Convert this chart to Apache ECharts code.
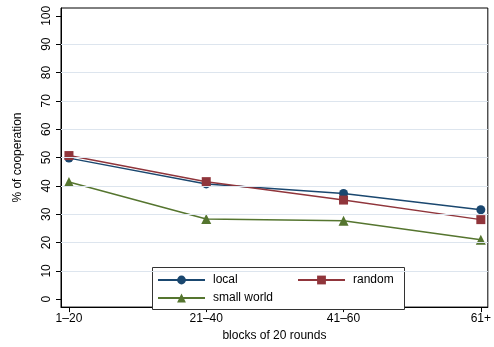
<!DOCTYPE html>
<html>
<head>
<meta charset="utf-8">
<script src="https://cdn.jsdelivr.net/npm/echarts@6/dist/echarts.min.js"></script>
<style>
  html, body { margin: 0; padding: 0; background: #fff; }
  #chart { width: 494px; height: 347px; }
</style>
</head>
<body>
<div id="chart"></div>
<script>
var blocks = ['1\u201320', '21\u201340', '41\u201360', '61+'];
var local = [49.8, 40.7, 37.3, 31.6];
var random = [50.7, 41.5, 35.0, 28.1];
var smallWorld = [41.4, 28.3, 27.7, 21.0];
var yTicks = [0, 10, 20, 30, 40, 50, 60, 70, 80, 90, 100];
var gridVals = [10, 20, 30, 40, 50, 60, 70, 80, 90];

var font = 'Liberation Sans, Arial, sans-serif';

function pts(arr) {
	return arr.map(function(v, i) { return [i, v]; });
}

function mkSeries(name, arr, color, symbol, size) {
	return {
		name: name,
		type: 'line',
		data: pts(arr),
		symbol: symbol,
		symbolSize: size,
		showSymbol: true,
		color: color,
		itemStyle: { color: color },
		lineStyle: { color: color, width: 1.5 },
		z: 3
	};
}

function mkLegend(name, left, top) {
	return {
		data: [name],
		left: left,
		top: top,
		padding: 0,
		itemWidth: 47,
		itemHeight: 11,
		z: 10,
		textStyle: { fontFamily: font, fontSize: 12, color: '#000', padding: [0, 0, 0, 3] }
	};
}

var chart = echarts.init(document.getElementById('chart'));

var series = [
	mkSeries('local', local, '#1a476f', 'circle', 9),
	mkSeries('random', random, '#90353b', 'rect', 9),
	mkSeries('small world', smallWorld, '#55752f', 'triangle', 10)
];
series[0].markLine = {
	silent: true,
	symbol: ['none', 'none'],
	label: { show: false },
	lineStyle: { color: '#dde5ee', width: 1, type: 'solid' },
	animation: false,
	data: gridVals.map(function(v) { return { yAxis: v }; })
};

chart.setOption({
	animation: false,
	backgroundColor: '#fff',
	grid: {
		left: 61, right: 3, top: 8, bottom: 33,
		show: true, borderColor: '#000', borderWidth: 1
	},
	xAxis: {
		type: 'value',
		min: -0.058, max: 3.051,
		name: 'blocks of 20 rounds',
		nameLocation: 'middle',
		nameGap: 21,
		nameTextStyle: { fontFamily: font, fontSize: 12, color: '#000' },
		axisLine: { show: true, onZero: false, lineStyle: { color: '#000', width: 1 } },
		axisTick: { show: true, length: 5, customValues: [0, 1, 2, 3], lineStyle: { color: '#000' } },
		axisLabel: {
			customValues: [0, 1, 2, 3],
			margin: 6,
			fontFamily: font, fontSize: 12, color: '#000',
			formatter: function(v) { return blocks[Math.round(v)]; }
		},
		splitLine: { show: false },
		minorSplitLine: { show: false }
	},
	yAxis: {
		type: 'value',
		min: -2.76, max: 102.76,
		name: '% of cooperation',
		nameLocation: 'middle',
		nameGap: 37,
		nameTextStyle: { fontFamily: font, fontSize: 12, color: '#000' },
		axisLine: { show: true, onZero: false, lineStyle: { color: '#000', width: 1 } },
		axisTick: { show: true, length: 5, customValues: yTicks, lineStyle: { color: '#000' } },
		axisLabel: {
			customValues: yTicks,
			rotate: 90,
			margin: 8,
			fontFamily: font, fontSize: 12, color: '#000'
		},
		splitLine: { show: false },
		minorSplitLine: { show: false }
	},
	legend: [
		mkLegend('local', 157, 274),
		mkLegend('random', 297, 274),
		mkLegend('small world', 157, 292)
	],
	graphic: [{
		type: 'rect',
		shape: { x: 152.5, y: 267.5, width: 252, height: 42 },
		style: { fill: '#fff', stroke: '#333', lineWidth: 1 },
		z: 5
	}],
	series: series
});
</script>
</body>
</html>
